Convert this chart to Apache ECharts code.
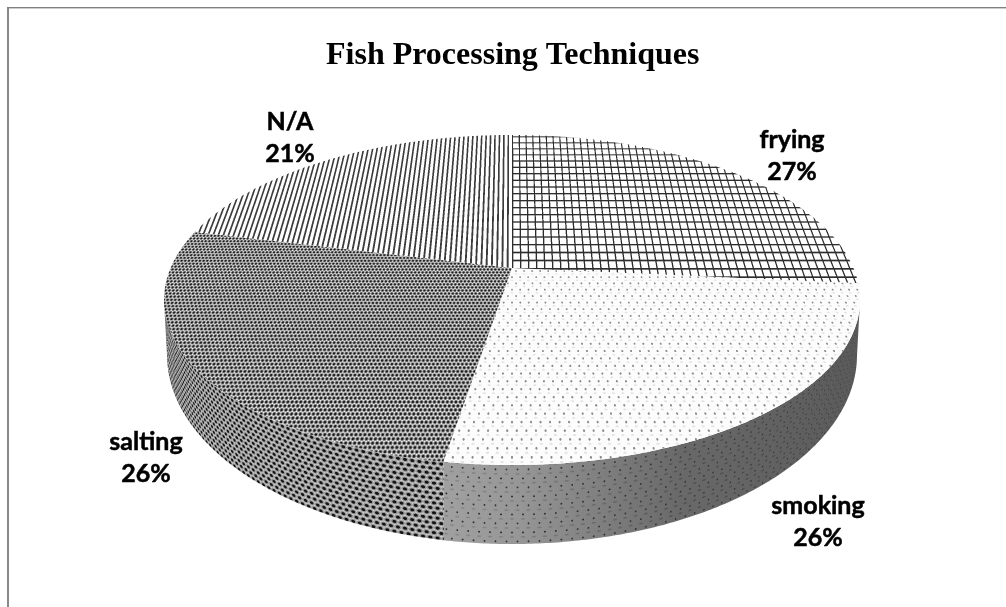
<!DOCTYPE html>
<html>
<head>
<meta charset="utf-8">
<style>html,body{margin:0;padding:0;background:#fff}#main{width:1006px;height:607px}</style>
<script src="https://cdn.jsdelivr.net/npm/echarts@6/dist/echarts.min.js"></script>
</head>
<body>
<div id="main"></div>
<script>
var titleText = 'Fish Processing Techniques';
var categories = ['frying', 'smoking', 'salting', 'N/A'];
// estimated from the slice borders, they round to the printed 27/26/26/21
var values = [26.5, 26.1, 26.2, 21.2];

// label centre for each slice
var labelPos = [[792, 156], [818, 522], [146, 458], [290, 138]];

// tilted disc: perspective from the unit circle to the top ellipse
var CX = 512, CY = 268, R = 341.4, A = 158.8, K = -0.194;
var TOP_CY = 300, TOP_RX = 348, TOP_RY = 165;
var BOT_CY = 355, BOT_RX = 345, BOT_RY = 189;
var W = 1006, H = 607;

function project(deg) {
    var t = deg * Math.PI / 180;
    var u = Math.sin(t), v = -Math.cos(t), w = 1 + K * v;
    return [CX + R * u / w, CY + A * v / w];
}

function frac(x) { return x - Math.floor(x); }

function toDisc(x, y) {
    var p = (y - CY) / A;
    var v = p / (1 - K * p);
    return [(x - CX) * (1 + K * v) / R, v];
}

function toWall(x, y) {
    var dx = x - CX;
    var a = Math.max(-1, Math.min(1, dx / BOT_RX));
    var top = TOP_CY + TOP_RY * Math.sqrt(Math.max(0, 1 - Math.pow(dx / TOP_RX, 2)));
    var bot = BOT_CY + BOT_RY * Math.sqrt(1 - a * a);
    return [Math.asin(a) * BOT_RX, (y - top) * 79 / Math.max(bot - top, 1)];
}

// cell lookup with every second row shifted
function cell(s, t, sw, th) {
    var row = Math.floor(t / th);
    var fy = frac(t / th) - 0.5;
    var fx = frac(s / sw + (row % 2 ? 0.5 : 0)) - 0.5;
    return [fx * sw, fy * th];
}

// build a canvas sized like the page, sampled per pixel
function texture(x0, y0, x1, y1, map, shade) {
    var c = document.createElement('canvas');
    c.width = W; c.height = H;
    var ctx = c.getContext('2d');
    var img = ctx.createImageData(x1 - x0, y1 - y0);
    var off = [1 / 6, 0.5, 5 / 6];
    for (var y = y0; y < y1; y++) {
        for (var x = x0; x < x1; x++) {
            var sum = 0;
            for (var i = 0; i < 3; i++) {
                for (var j = 0; j < 3; j++) {
                    var px = x + off[i], py = y + off[j];
                    var m = map(px, py);
                    sum += shade(m[0], m[1], px);
                }
            }
            var g = sum / 9;
            var k = ((y - y0) * (x1 - x0) + (x - x0)) * 4;
            img.data[k] = img.data[k + 1] = img.data[k + 2] = g;
            img.data[k + 3] = 255;
        }
    }
    ctx.putImageData(img, x0, y0);
    return c;
}

function gridShade(u, v) {
    return (frac(u / 0.0235) < 0.17 || frac(v / 0.052) < 0.19) ? 45 : 255;
}
function stripeShade(u, v) {
    return frac(u / 0.0155) < 0.36 ? 60 : 255;
}
function dotShade(u, v) {
    var a = cell(u * 341, v * 158, 8, 6);
    if (a[0] * a[0] + a[1] * a[1] < 0.8) return 140;
    var b = cell(u * 341 + 4, v * 158 + 3, 8, 6);
    if (b[0] * b[0] / 4 + b[1] * b[1] < 0.5) return 228;
    return 252;
}
function weaveShade(u, v) {
    var a = cell(u * 341, v * 158, 3.7, 2.9);
    var d = Math.sqrt(a[0] * a[0] + a[1] * a[1] * 1.3);
    if (d < 1) return 30;
    if (d > 1.75) return 240;
    return 135;
}
function wallWeaveShade(s, t) {
    var a = cell(s, t, 7.5, 5);
    var d = Math.sqrt(a[0] * a[0] / 2 + a[1] * a[1]);
    if (d < 1.5) return 20;
    if (d > 2.6) return 205;
    return 150;
}
function wallDotShade(s, t, x) {
    var base = x < 520 ? 160 - (x - 445) * 0.13
        : x < 680 ? 150 - (x - 520) * 0.28
        : 105 - (x - 680) * 0.08;
    var a = cell(s, t, 11, 9);
    if (a[0] * a[0] + a[1] * a[1] < 0.9) return 50;
    var b = cell(s + 5.5, t + 4.5, 11, 9);
    if (b[0] * b[0] / 6 + b[1] * b[1] < 0.8) return base - 22;
    return base;
}

var topFills = [
    texture(505, 125, 870, 300, toDisc, gridShade),
    texture(430, 270, 870, 475, toDisc, dotShade),
    texture(155, 220, 520, 475, toDisc, weaveShade),
    texture(155, 125, 520, 275, toDisc, stripeShade)
];
var wallFills = [
    null,
    texture(435, 295, 870, 550, toWall, wallDotShade),
    texture(155, 295, 450, 550, toWall, wallWeaveShade),
    null
];

function renderSlice(params, api) {
    var i = params.dataIndex;
    var total = values.reduce(function (a, b) { return a + b; }, 0);
    var before = values.slice(0, i).reduce(function (a, b) { return a + b; }, 0);
    var start = before / total * 360;
    var end = start + api.value(0) / total * 360;

    var top = [[CX, CY]];
    var rimTop = [], rimBot = [];
    var steps = Math.ceil((end - start) * 2);
    for (var n = 0; n <= steps; n++) {
        var p = project(start + (end - start) * n / steps);
        top.push(p);
        var a = (p[0] - CX) / TOP_RX, b = (p[1] - TOP_CY) / TOP_RY;
        if (b >= -0.002) {
            rimTop.push(p);
            rimBot.unshift([CX + BOT_RX * a, BOT_CY + BOT_RY * Math.max(b, 0)]);
        }
    }

    var children = [];
    if (wallFills[i] && rimTop.length) {
        children.push({
            type: 'polygon',
            shape: { points: rimTop.concat(rimBot) },
            style: { fill: { image: wallFills[i], repeat: 'no-repeat' } }
        });
    }
    children.push({
        type: 'polygon',
        shape: { points: top },
        style: { fill: { image: topFills[i], repeat: 'no-repeat' } }
    });
    children.push({
        type: 'text',
        x: labelPos[i][0],
        y: labelPos[i][1],
        style: {
            text: categories[i] + '\n' + Math.round(api.value(0)) + '%',
            fill: '#000',
            stroke: '#000',
            lineWidth: 0.5,
            font: 'bold 25px Lato',
            lineHeight: 32,
            align: 'center',
            verticalAlign: 'middle'
        }
    });
    return { type: 'group', children: children };
}

var myChart = echarts.init(document.getElementById('main'), null, { renderer: 'canvas' });
myChart.setOption({
    animation: false,
    backgroundColor: '#fff',
    title: {
        text: titleText,
        left: 321,
        top: 35,
        textStyle: { fontFamily: 'Liberation Serif', fontWeight: 'bold', fontSize: 32, color: '#000' }
    },
    graphic: [
        { type: 'rect', shape: { x: 7, y: 7, width: 2, height: 600 }, style: { fill: '#888' } },
        { type: 'rect', shape: { x: 7, y: 7, width: 999, height: 1 }, style: { fill: '#808080' } },
        { type: 'rect', shape: { x: 9, y: 8, width: 997, height: 1 }, style: { fill: '#ccc' } }
    ],
    series: [{
        type: 'custom',
        coordinateSystem: 'none',
        silent: true,
        renderItem: renderSlice,
        data: values.map(function (v, i) { return { name: categories[i], value: [v] }; })
    }]
});
</script>
</body>
</html>
